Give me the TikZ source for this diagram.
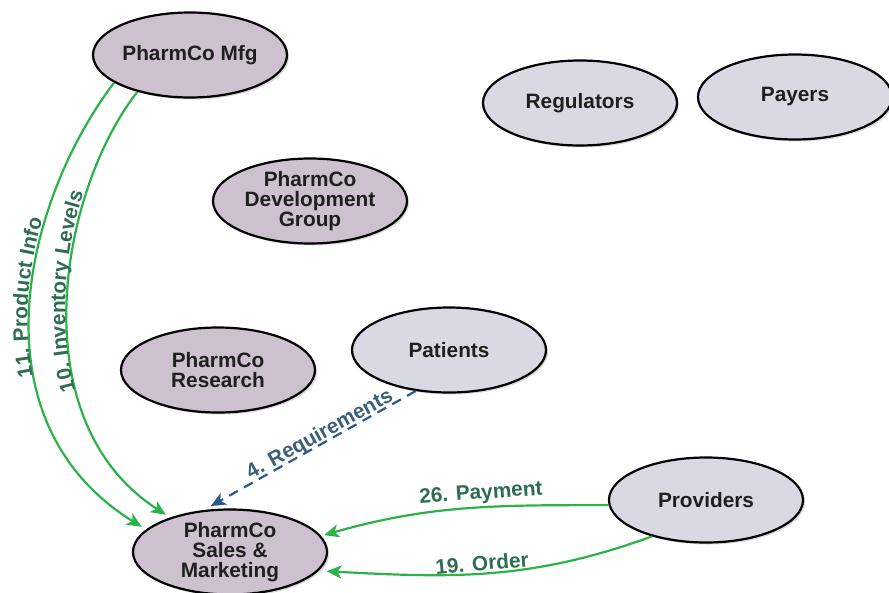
\documentclass[tikz,border=0pt]{standalone}
\usepackage{fontspec}
\setmainfont{Liberation Sans}
\usetikzlibrary{shapes.geometric,arrows.meta,shadows,decorations.text}
\definecolor{pharm}{HTML}{CDC0CF}
\definecolor{extc}{HTML}{D9D9E3}
\definecolor{flowgreen}{HTML}{2BB34A}
\definecolor{labgreen}{HTML}{2D6E50}
\definecolor{reqblue}{HTML}{2C5A8C}
\definecolor{labblue}{HTML}{3A6078}
\begin{document}
\begin{tikzpicture}[x=1pt,y=-1pt,
  ent/.style={ellipse, draw=black, line width=2.2pt, minimum width=194pt, minimum height=85pt,
    inner sep=0pt, align=center, font=\fontsize{20.8}{20}\selectfont\bfseries, text=black!88,
    drop shadow={shadow xshift=2pt, shadow yshift=-2pt, opacity=0.3}},
  intent/.style={ent, fill=pharm},
  extent/.style={ent, fill=extc},
  flow/.style={draw=flowgreen, line width=2.2pt, -{Stealth[length=15pt,width=13pt,inset=4pt]}},
  reqflow/.style={draw=reqblue, line width=2.2pt, dash pattern=on 10pt off 7pt,
    -{Stealth[length=15pt,width=13pt,inset=4pt]}},
  elabel/.style={font=\fontsize{20.8}{22}\selectfont\bfseries, text=labgreen, inner sep=0pt},
]
\useasboundingbox (0,0) rectangle (889,592);
\fill[white] (0,0) rectangle (889,592);

\node[intent] (mfg) at (190,55) {PharmCo Mfg};
\node[extent] (reg) at (580,103) {Regulators};
\node[extent] (pay) at (795,97) {Payers};
\node[intent] (dev) at (310,201) {PharmCo\\Development\\Group};
\node[intent] (res) at (218,370) {PharmCo\\Research};
\node[extent] (pat) at (449,350) {Patients};
\node[intent] (sales) at (230,552) {PharmCo\\Sales \&\\Marketing};
\node[extent] (prov) at (706,500) {Providers};

\draw[flow, shorten >=5pt] (mfg.200) .. controls (25,200) and (-30,420) .. (sales.165);
\draw[flow, shorten >=5pt] (mfg.215) .. controls (60,190) and (19,420) .. (sales.150);
\draw[reqflow, shorten >=8pt] (pat.231) -- (sales.122);
\draw[flow, shorten >=3pt] (prov.183) to[out=180,in=16] (sales.10);
\draw[flow, shorten >=8pt] (prov.214) to[out=200,in=-3] (sales.-12);

\path[decorate, decoration={text along path, raise=3pt, text color=labgreen,
    text align={center, left indent=40pt},
    text={|\fontsize{20.8}{22}\selectfont\bfseries|11. Product Info}}]
  (sales.165) .. controls (-30,420) and (25,200) .. (mfg.200);
\path[decorate, decoration={text along path, raise=3pt, text color=labgreen,
    text align={center, left indent=47pt},
    text={|\fontsize{20.8}{22}\selectfont\bfseries|10. Inventory Levels}}]
  (sales.150) .. controls (19,420) and (60,190) .. (mfg.215);

\node[elabel, text=labblue, rotate=29] (l4) at (320,435) {4. Requirements};
\node[elabel, rotate=4] (l26) at (481,494) {26. Payment};
\node[elabel, rotate=5] (l19) at (482,563) {19. Order};
\end{tikzpicture}
\end{document}
